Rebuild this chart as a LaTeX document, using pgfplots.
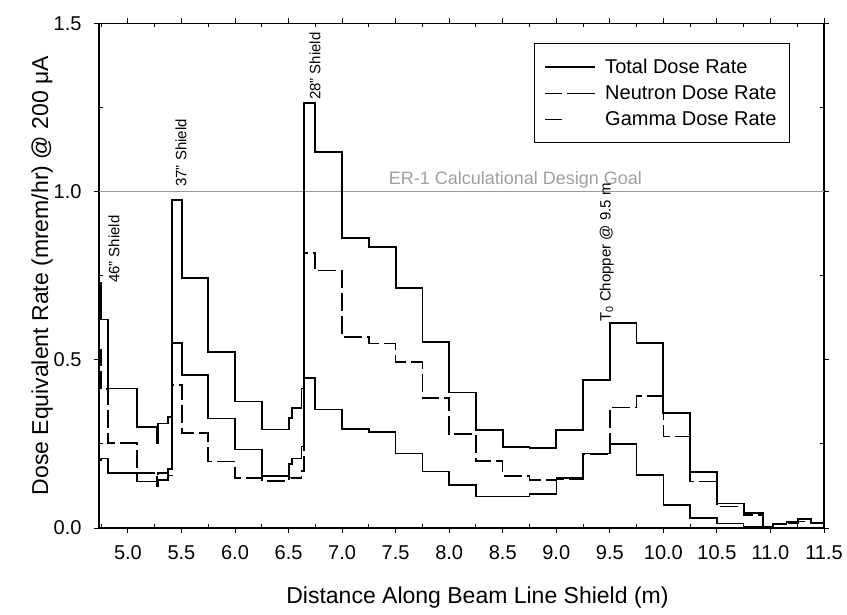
\documentclass[border=0pt]{standalone}
\usepackage{fontspec}
\setmainfont{Liberation Sans}
\usepackage{pgfplots}
\usepackage{pgfplotstable}
\pgfplotsset{compat=1.18}

\pgfplotstableread{
x y
4.73 0.73
4.75 0.62
4.815 0.415
5.087 0.301
5.27 0.252
5.28 0.311
5.376 0.331
5.41 0.975
5.504 0.743
5.75 0.524
6.0 0.376
6.25 0.293
6.506 0.326
6.53 0.356
6.62 0.415
6.645 1.264
6.745 1.118
7.0 0.862
7.25 0.836
7.5 0.713
7.75 0.554
8.0 0.403
8.25 0.291
8.5 0.242
8.75 0.237
9.0 0.291
9.25 0.44
9.5 0.61
9.75 0.549
10.0 0.341
10.25 0.166
10.5 0.073
10.75 0.044
10.93 0.004
11.02 0.012
11.15 0.019
11.26 0.026
11.38 0.016
11.5 0.016
}\totaltab

\pgfplotstableread{
x y
4.73 0.53
4.75 0.413
4.815 0.252
5.087 0.163
5.27 0.124
5.28 0.163
5.376 0.156
5.41 0.425
5.504 0.282
5.75 0.197
6.0 0.148
6.25 0.14
6.506 0.15
6.53 0.148
6.62 0.17
6.645 0.818
6.745 0.765
7.0 0.568
7.25 0.549
7.5 0.493
7.75 0.386
8.0 0.28
8.25 0.199
8.5 0.155
8.75 0.143
9.0 0.145
9.25 0.218
9.5 0.359
9.75 0.392
10.0 0.272
10.25 0.138
10.5 0.064
10.75 0.039
10.93 0.004
11.02 0.010
11.15 0.015
11.26 0.020
11.38 0.013
11.5 0.013
}\neutrontab

\pgfplotstableread{
x y
4.73 0.20
4.75 0.207
4.815 0.163
5.087 0.138
5.27 0.128
5.28 0.143
5.376 0.175
5.41 0.55
5.504 0.455
5.75 0.326
6.0 0.234
6.25 0.155
6.506 0.19
6.53 0.207
6.62 0.242
6.645 0.446
6.745 0.353
7.0 0.294
7.25 0.286
7.5 0.222
7.75 0.168
8.0 0.128
8.25 0.093
8.5 0.093
8.75 0.101
9.0 0.148
9.25 0.222
9.5 0.25
9.75 0.158
10.0 0.069
10.25 0.029
10.5 0.014
10.75 0.004
11.0 0.002
11.5 0.002
}\gammatab

\begin{document}
\begin{tikzpicture}
\begin{axis}[
  scale only axis, width=725pt, height=504.5pt,
  xmin=4.73, xmax=11.5, ymin=0, ymax=1.5,
  xtick={5,5.5,...,11.5}, ytick={0,0.5,1,1.5},
  tick pos=both,
  tick align=outside, major tick length=5pt,
  tick style={line width=1pt, black},
  axis line style={line width=1.3pt},
  /pgf/number format/.cd, fixed, fixed zerofill, precision=1, assume math mode=true,
  /pgfplots/.cd,
  ticklabel style={font=\fontsize{20}{24}\selectfont},
  xticklabel style={yshift=-9pt},
  yticklabel style={xshift=-9pt},
  label style={font=\fontsize{23}{27}\selectfont},
  xlabel={Distance Along Beam Line Shield (m)},
  ylabel={Dose Equivalent Rate (mrem/hr) @ 200 μA},
  xlabel style={at={(axis description cs:0.522,-0.1487)}, anchor=base, inner sep=0pt},
  ylabel style={at={(axis description cs:-0.0703,0.5)}, anchor=base, inner sep=0pt},
  legend style={at={(0.953,0.961)}, anchor=north east, draw=black, line width=1pt,
    font=\fontsize{20}{24}\selectfont, inner xsep=10pt, inner ysep=10pt,
    nodes={inner xsep=3pt, inner ysep=5.4pt},
    /tikz/every odd column/.append style={column sep=6pt}},
  legend cell align=left,
  legend image code/.code={\draw[#1] (0pt,0pt) -- (50pt,0pt);},
]
\addplot[gray!80, line width=1pt, forget plot] coordinates {(4.73,1) (11.5,1)};
\addplot[black, line width=1.8pt, const plot] table[x=x,y=y] {\totaltab};
\addlegendentry{Total Dose Rate}
\addplot[black, line width=1.5pt, const plot, dash pattern=on 18pt off 5pt,
  legend image code/.code={\draw[black, solid, line width=1.5pt] (0pt,0pt) -- (17pt,0pt); \draw[black, solid, line width=1.5pt] (22pt,0pt) -- (50pt,0pt);}] table[x=x,y=y] {\neutrontab};
\addlegendentry{Neutron Dose Rate}
\addplot[black, line width=1.5pt, const plot,
  legend image code/.code={\draw[black, solid, line width=1.5pt] (0pt,0pt) -- (17pt,0pt); \path[draw=none] (0pt,0pt) -- (50pt,0pt);}] table[x=x,y=y] {\gammatab};
\addlegendentry{Gamma Dose Rate}

\node[text=gray!75, font=\fontsize{18}{21}\selectfont, anchor=base] at (axis cs:8.618,1.02) {ER-1 Calculational Design Goal};
\node[rotate=90, anchor=west, inner sep=0pt, font=\fontsize{15}{18}\selectfont] at (axis cs:4.87,0.728) {46" Shield};
\node[rotate=90, anchor=west, inner sep=0pt, font=\fontsize{15}{18}\selectfont] at (axis cs:5.495,1.014) {37" Shield};
\node[rotate=90, anchor=west, inner sep=0pt, font=\fontsize{15}{18}\selectfont] at (axis cs:6.746,1.272) {28" Shield};
\node[rotate=90, anchor=west, inner sep=0pt, font=\fontsize{15}{18}\selectfont] at (axis cs:9.472,0.613) {T\textsubscript{0} Chopper @ 9.5 m};
\end{axis}
\begin{axis}[
  scale only axis, width=725pt, height=504.5pt,
  xmin=4.73, xmax=11.5, ymin=0, ymax=1.5,
  xtick={4.75,5.25,...,11.25}, ytick={0.25,0.75,1.25},
  xticklabels={}, yticklabels={},
  tick pos=both,
  tick align=inside, major tick length=4pt,
  tick style={line width=1pt, black},
  axis line style={draw=none},
]
\end{axis}
\pgfresetboundingbox
\path[use as bounding box] ([shift={(-99pt,-86pt)}]current axis.south west) rectangle ([shift={(23pt,23.5pt)}]current axis.north east);
\end{tikzpicture}
\end{document}
